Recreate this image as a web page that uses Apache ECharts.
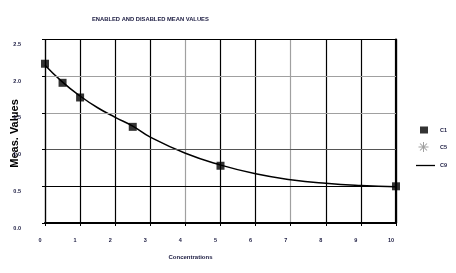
<!DOCTYPE html>
<html><head><meta charset="utf-8">
<script src="https://cdn.jsdelivr.net/npm/echarts@6/dist/echarts.min.js"></script>
<style>html,body{margin:0;padding:0;background:#fff}#c{width:456px;height:273px}</style>
</head><body><div id="c"></div>
<script>
const title = 'ENABLED AND DISABLED MEAN VALUES';
const xName = 'Concentrations';
const yName = 'Meas. Values';
const c1X = [0, 0.5, 1, 2.5, 5, 10];
const c1Y = [2.17, 1.91, 1.71, 1.31, 0.78, 0.5];
const c5X = [];
const c5Y = [];
const c9X = [0, 0.5, 1, 1.5, 2, 2.5, 3, 4, 5, 6, 7, 8, 9, 10];
const c9Y = [2.15, 1.92, 1.73, 1.57, 1.44, 1.32, 1.17, 0.95, 0.79, 0.67, 0.59, 0.54, 0.51, 0.495];

const BLK = '#000', GRY = '#a0a0a0';
const starPath = 'path://M9 0L11 0L11 20L9 20Z M0 9L20 9L20 11L0 11Z M2.3 3.7L3.7 2.3L17.7 16.3L16.3 17.7Z M16.3 2.3L17.7 3.7L3.7 17.7L2.3 16.3Z';
const txt = '#1a1a40';
const FF = 'Liberation Sans, Arial, sans-serif';
const lblFont = {fontFamily:FF, fontWeight:'bold', fontSize:5.5, color:txt};

const chart = echarts.init(document.getElementById('c'), null, {renderer:'canvas'});
chart.setOption({
  animation:false,
  backgroundColor:'#fff',
  title:{text:title, left:92, top:16, padding:0,
    textStyle:{fontFamily:FF, fontWeight:'bold', fontSize:5.8, color:txt}},
  grid:{left:45, right:60, top:39.5, bottom:50, containLabel:false, outerBoundsMode:'none'},
  graphic:[{type:'text', x:15, y:133.5, rotation:Math.PI/2, z:-10, zlevel:0,
    style:{text:yName, fontFamily:FF, fontWeight:'bold', fontSize:11, fill:'#000', align:'center', verticalAlign:'middle'}}],
  legend:[
    {data:[{name:'C1', icon:'rect'}], left:420, top:126.5, itemWidth:8, itemHeight:7, padding:0,
      textStyle:Object.assign({}, lblFont, {padding:[12,0,0,7]})},
    {data:[{name:'C5', icon:starPath}], left:418.5, top:142, itemWidth:10, itemHeight:10, padding:0,
      itemStyle:{color:'#8a8a8a'},
      textStyle:Object.assign({}, lblFont, {padding:[12,0,0,6.5]})},
    {data:[{name:'C9', icon:'rect'}], left:416, top:162.5, itemWidth:19, itemHeight:1.3, padding:0,
      itemStyle:{color:BLK},
      textStyle:Object.assign({}, lblFont, {padding:[12,0,0,0]})}
  ],
  xAxis:{type:'value', min:0, max:10, interval:1,
    name:xName, nameLocation:'middle', nameGap:31, nameMoveOverlap:false,
    nameTextStyle:{fontFamily:FF, fontWeight:'bold', fontSize:6, color:txt, padding:[0,60,0,0]},
    axisLine:{lineStyle:{color:BLK, width:2.2}},
    axisTick:{show:true, inside:false, length:3, lineStyle:{color:BLK, width:1}},
    axisLabel:Object.assign({}, lblFont, {margin:14, padding:[0,10,0,0]}),
    splitLine:{show:true, lineStyle:{width:1.2, color:[BLK,BLK,BLK,BLK,GRY,BLK,BLK,GRY,BLK,BLK,BLK]}}
  },
  yAxis:[{type:'value', min:0, max:2.5, interval:0.5, z:10,
    axisLine:{show:true, lineStyle:{color:BLK, width:1.2}},
    axisTick:{show:true, inside:false, length:3, lineStyle:{color:BLK, width:1}},
    axisLabel:Object.assign({}, lblFont, {margin:24, verticalAlign:'top', padding:[2,0,0,0], formatter:v=>v.toFixed(1)}),
    splitLine:{show:true, lineStyle:{width:1.2, color:[BLK,BLK,'#555',GRY,GRY,BLK]}}
  },{type:'value', min:0, max:2.5, interval:0.5, position:'right',
    axisLine:{show:true, lineStyle:{color:BLK, width:2.2}},
    axisTick:{show:false}, axisLabel:{show:false}, splitLine:{show:false}
  }],
  series:[
    {name:'C1', type:'scatter', symbol:'rect', symbolSize:8, itemStyle:{color:BLK}, z:5,
      data:c1X.map((x,i)=>[x,c1Y[i]])},
    {name:'C5', type:'scatter', symbol:starPath, symbolSize:10, itemStyle:{color:'#8a8a8a'},
      data:c5X.map((x,i)=>[x,c5Y[i]])},
    {name:'C9', type:'line', smooth:true, showSymbol:false, symbol:'none',
      lineStyle:{color:BLK, width:1.5}, itemStyle:{color:BLK},
      data:c9X.map((x,i)=>[x,c9Y[i]])}
  ]
});
</script></body></html>
